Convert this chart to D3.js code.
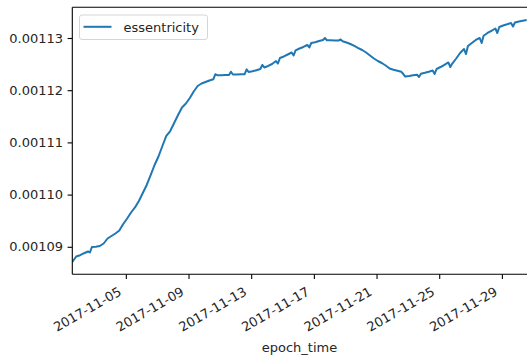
<!DOCTYPE html>
<html>
<head>
<meta charset="utf-8">
<script src="https://cdn.jsdelivr.net/npm/d3@7/dist/d3.min.js"></script>
<style>
  html, body { margin: 0; padding: 0; background: #fff; }
  svg { display: block; font-family: "DejaVu Sans", sans-serif; }
</style>
</head>
<body>
<svg id="chart" width="527" height="360"></svg>
<script>
// Readings sampled every 6 hours, starting 2017-11-01 14:00 UTC
const sampleStart = "2017-11-01T14:00:00Z";
const sampleStepHours = 6;
const sampleValues = [
  0.00108709, 0.00108814, 0.00108839, 0.00108877, 0.00108910, 0.00108996, 0.00109000, 0.00109015,
  0.00109063, 0.00109159, 0.00109207, 0.00109255, 0.00109312, 0.00109437, 0.00109542, 0.00109657,
  0.00109753, 0.00109877, 0.00110031, 0.00110184, 0.00110375, 0.00110567, 0.00110730, 0.00110931,
  0.00111123, 0.00111218, 0.00111372, 0.00111525, 0.00111669, 0.00111745, 0.00111851, 0.00111975,
  0.00112080, 0.00112128, 0.00112157, 0.00112186, 0.00112209, 0.00112287, 0.00112287, 0.00112289,
  0.00112291, 0.00112301, 0.00112303, 0.00112305, 0.00112307, 0.00112349, 0.00112362, 0.00112383,
  0.00112406, 0.00112435, 0.00112464, 0.00112502, 0.00112559, 0.00112617, 0.00112646, 0.00112684,
  0.00112722, 0.00112761, 0.00112799, 0.00112828, 0.00112866, 0.00112904, 0.00112918, 0.00112943,
  0.00112962, 0.00112956, 0.00112956, 0.00112954, 0.00112952, 0.00112937, 0.00112914, 0.00112885,
  0.00112847, 0.00112808, 0.00112770, 0.00112722, 0.00112665, 0.00112607, 0.00112559, 0.00112521,
  0.00112473, 0.00112416, 0.00112391, 0.00112374, 0.00112352, 0.00112262, 0.00112272, 0.00112285,
  0.00112297, 0.00112314, 0.00112333, 0.00112354, 0.00112377, 0.00112406, 0.00112444, 0.00112487,
  0.00112531, 0.00112511, 0.00112607, 0.00112713, 0.00112789, 0.00112847, 0.00112904, 0.00112962,
  0.00113000, 0.00113042, 0.00113096, 0.00113138, 0.00113182, 0.00113211, 0.00113239, 0.00113262,
  0.00113287, 0.00113297, 0.00113316, 0.00113331, 0.00113345
];

// Extra readings taken around 17:00 each day (daily glitches)
const glitchTimes = [
  "2017-11-02T17:00:00Z", "2017-11-10T17:00:00Z", "2017-11-11T17:00:00Z", "2017-11-12T17:00:00Z",
  "2017-11-13T17:00:00Z", "2017-11-14T17:00:00Z", "2017-11-15T17:00:00Z", "2017-11-16T17:00:00Z",
  "2017-11-17T17:00:00Z", "2017-11-18T17:00:00Z", "2017-11-22T17:00:00Z", "2017-11-23T17:00:00Z",
  "2017-11-24T17:00:00Z", "2017-11-25T17:00:00Z", "2017-11-26T17:00:00Z", "2017-11-27T17:00:00Z",
  "2017-11-28T17:00:00Z", "2017-11-29T17:00:00Z"
];
const glitchValues = [
  0.00108891, 0.00112305, 0.00112354, 0.00112400,
  0.00112483, 0.00112511, 0.00112665, 0.00112818,
  0.00113000, 0.00112971, 0.00112310, 0.00112253,
  0.00112310, 0.00112444, 0.00112693, 0.00112904,
  0.00113096, 0.00113220
];

const xTickLabels = ["2017-11-05", "2017-11-09", "2017-11-13", "2017-11-17", "2017-11-21", "2017-11-25", "2017-11-29"];
const yTickValues = [0.00109, 0.00110, 0.00111, 0.00112, 0.00113];
const seriesName = "essentricity";
const xAxisTitle = "epoch_time";

// Assemble the series in time order
const t0 = new Date(sampleStart).getTime();
const series = sampleValues.map((v, i) => ({ t: new Date(t0 + i * sampleStepHours * 3600e3), v }))
  .concat(glitchTimes.map((s, i) => ({ t: new Date(s), v: glitchValues[i] })))
  .sort((a, b) => a.t - b.t);

const svg = d3.select("#chart");
const plotLeft = 72.3, plotRight = 526.7, plotTop = 7.3, plotBottom = 274.3;
const fontSize = 13;

const x = d3.scaleUtc()
  .domain(d3.extent(series, d => d.t))
  .range([plotLeft, plotRight]);
const y = d3.scaleLinear()
  .domain([0.00108473, 0.00113588])
  .range([plotBottom, plotTop]);

// clip for the data line
svg.append("defs").append("clipPath").attr("id", "plot-clip")
  .append("rect").attr("x", plotLeft).attr("y", plotTop)
  .attr("width", plotRight - plotLeft + 2).attr("height", plotBottom - plotTop);

// data line
svg.append("path")
  .datum(series)
  .attr("clip-path", "url(#plot-clip)")
  .attr("fill", "none")
  .attr("stroke", "#1f77b4")
  .attr("stroke-width", 2)
  .attr("stroke-linejoin", "round")
  .attr("d", d3.line().x(d => x(d.t)).y(d => y(d.v)));

// y axis
const yAxis = d3.axisLeft(y)
  .tickValues(yTickValues)
  .tickFormat(d3.format(".5f"))
  .tickSizeInner(4.7)
  .tickSizeOuter(0)
  .tickPadding(4.5);
const gy = svg.append("g").attr("transform", `translate(${plotLeft},0)`).call(yAxis);
gy.select(".domain").remove();
gy.selectAll(".tick line").attr("stroke", "#000").attr("stroke-width", 1.1);
gy.selectAll(".tick text")
  .attr("font-size", fontSize).attr("font-family", "DejaVu Sans").attr("fill", "#262626");

// x axis
const xTicks = xTickLabels.map(s => new Date(s + "T00:00:00Z"));
const xAxis = d3.axisBottom(x)
  .tickValues(xTicks)
  .tickFormat(d3.utcFormat("%Y-%m-%d"))
  .tickSizeInner(4.7)
  .tickSizeOuter(0)
  .tickPadding(0);
const gx = svg.append("g").attr("transform", `translate(0,${plotBottom})`).call(xAxis);
gx.select(".domain").remove();
gx.selectAll(".tick line").attr("stroke", "#000").attr("stroke-width", 1.1);
gx.selectAll(".tick text")
  .attr("font-size", fontSize).attr("font-family", "DejaVu Sans").attr("fill", "#262626")
  .attr("text-anchor", "end")
  .attr("dy", null)
  .attr("y", 0)
  .attr("transform", "translate(-4,20) rotate(-30)");

// spines
const spine = svg.append("g").attr("stroke", "#000").attr("stroke-width", 1.1).attr("fill", "none");
spine.append("line").attr("x1", plotLeft).attr("x2", plotLeft).attr("y1", plotTop).attr("y2", plotBottom);
spine.append("line").attr("x1", plotLeft).attr("x2", 527).attr("y1", plotBottom).attr("y2", plotBottom);
spine.append("line").attr("x1", plotLeft).attr("x2", 527).attr("y1", plotTop).attr("y2", plotTop);

// x axis title
svg.append("text")
  .attr("x", (plotLeft + plotRight) / 2).attr("y", 352)
  .attr("text-anchor", "middle")
  .attr("font-size", fontSize).attr("fill", "#262626")
  .text(xAxisTitle);

// legend
const lg = svg.append("g");
lg.append("rect")
  .attr("x", 79.5).attr("y", 15).attr("width", 128).attr("height", 24.5)
  .attr("rx", 2.5)
  .attr("fill", "#fff").attr("fill-opacity", 0.8)
  .attr("stroke", "#d5d5d5").attr("stroke-width", 1);
lg.append("line")
  .attr("x1", 83.5).attr("x2", 111.5).attr("y1", 26.8).attr("y2", 26.8)
  .attr("stroke", "#1f77b4").attr("stroke-width", 2);
lg.append("text")
  .attr("x", 123.5).attr("y", 31.5)
  .attr("font-size", fontSize).attr("fill", "#262626")
  .text(seriesName);
</script>
</body>
</html>
